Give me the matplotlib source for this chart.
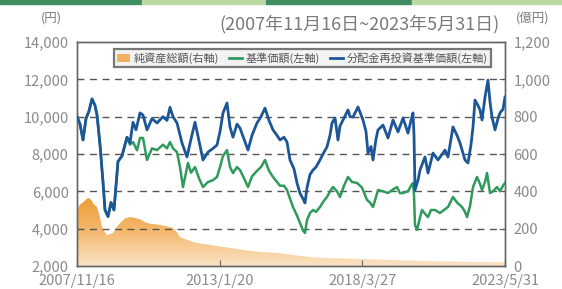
import numpy as np
import pandas as pd
import matplotlib
matplotlib.use("Agg")
import matplotlib.pyplot as plt
import matplotlib.dates as mdates
from matplotlib.patches import Rectangle, Patch
from matplotlib.lines import Line2D
from matplotlib.colors import LinearSegmentedColormap

plt.rcParams['font.family'] = ['Noto Sans CJK JP', 'DejaVu Sans']

# ---------------- data ----------------
start = pd.Timestamp("2007-11-16")
end = pd.Timestamp("2023-05-31")

# offsets in "chart units" along the period (0 = start, 428 = end)
blue_pos = [0, 3, 6, 9, 12, 15, 18, 20, 23, 26, 28, 31, 34, 37, 41, 45, 50, 53, 56, 59, 63, 66,
            70, 75, 80, 86, 90, 93, 96, 100, 105, 110, 114, 118, 122, 126, 131, 136, 140, 143,
            146, 150, 153, 156, 160, 163, 167, 171, 175, 180, 184, 188, 192, 196, 200, 203, 207,
            210, 213, 217, 220, 223, 226, 228, 230, 233, 236, 239, 243, 247, 250, 253, 255, 258,
            261, 263, 266, 271, 273, 276, 279, 281, 286, 289, 291, 294, 296, 299, 301, 306, 311,
            316, 321, 326, 331, 334, 336, 337, 338, 341, 343, 348, 351, 356, 361, 368, 371, 376,
            380, 383, 388, 391, 394, 396, 398, 401, 403, 405, 408, 411, 413, 415, 418, 421, 423,
            426, 428]
blue_val = [10000, 9600, 8750, 9900, 10300, 10950, 10600, 10100, 8500, 6500, 5000, 4650, 5400,
            5000, 7600, 7900, 8900, 8600, 9700, 9300, 10200, 10090, 9290, 9900, 9660, 10000,
            9800, 10500, 10000, 9660, 8590, 7840, 8800, 9700, 8700, 7680, 8100, 8300, 8480,
            9200, 10200, 10730, 9450, 8900, 9600, 9390, 8800, 8210, 9000, 9660, 10000, 10460,
            9800, 9290, 9000, 8750, 8900, 8640, 7680, 7200, 6450, 5900, 5600, 5375, 6200, 6900,
            7140, 7300, 7680, 8100, 8380, 9000, 9660, 9930, 8750, 9500, 9820, 10360, 10000, 9980,
            10300, 10520, 9820, 9200, 8050, 8400, 7680, 8800, 9290, 9550, 8860, 9820, 9180, 9930,
            9120, 9800, 10200, 9000, 6070, 6600, 7140, 7840, 6980, 8050, 7680, 8210, 7840, 9450,
            9000, 8590, 7680, 7520, 8500, 9450, 10890, 10600, 10360, 9820, 11050, 11960, 10800,
            9980, 9290, 9900, 10200, 10400, 11050]

green_pos = [0, 3, 6, 9, 12, 15, 18, 20, 23, 26, 28, 31, 34, 37, 41, 45, 50, 53, 56, 60, 63,
             66, 70, 75, 80, 86, 90, 93, 96, 100, 103, 106, 111, 114, 118, 122, 126, 131, 136,
             140, 143, 146, 150, 153, 156, 160, 163, 167, 171, 175, 180, 184, 188, 192, 196,
             200, 203, 207, 210, 213, 216, 220, 223, 226, 228, 230, 233, 236, 239, 243, 247,
             250, 253, 256, 260, 263, 267, 271, 275, 280, 285, 290, 293, 296, 299, 301, 306,
             311, 316, 320, 323, 326, 331, 334, 336, 337, 338, 340, 343, 345, 348, 351, 354,
             358, 363, 367, 371, 376, 380, 385, 388, 390, 393, 396, 400, 403, 405, 408, 410,
             413, 416, 420, 423, 426, 428]
green_val = [10000, 9600, 8750, 9900, 10300, 10950, 10600, 10100, 8500, 6500, 5000, 4650, 5400,
             5000, 7600, 7900, 8900, 8500, 8640, 8200, 8860, 8860, 7680, 8300, 8210, 8500, 8300,
             8640, 8300, 8100, 7300, 6230, 7520, 7000, 7300, 6700, 6230, 6500, 6600, 6770, 7300,
             7900, 8210, 7300, 6980, 7300, 7140, 6700, 6230, 6800, 7100, 7300, 7680, 7100, 6770,
             6500, 6300, 6300, 6070, 5600, 5160, 4700, 4300, 3900, 3770, 4460, 4840, 5000, 4900,
             5160, 5500, 5700, 6000, 6230, 6000, 5700, 6300, 6770, 6500, 6450, 6200, 5540, 5400,
             5160, 5700, 6070, 6000, 5910, 6100, 6230, 5900, 5910, 6000, 6300, 6450, 5800, 4200,
             3930, 4600, 5000, 4800, 4620, 5000, 5000, 4840, 5000, 5160, 5700, 5400, 5160, 4900,
             4620, 5200, 6230, 6770, 6400, 6070, 6500, 6980, 5910, 6000, 6230, 6000, 6300, 6450]

nav_pos = [0, 3, 7, 11, 14, 17, 20, 23, 25, 28, 30, 33, 36, 40, 43, 48, 53, 58, 63, 70, 76, 83,
           90, 96, 100, 103, 110, 116, 123, 133, 146, 156, 166, 183, 200, 216, 233, 253, 283,
           313, 338, 363, 393, 428]
nav_val = [300, 330, 345, 365, 355, 330, 316, 260, 209, 180, 166, 170, 177, 210, 230, 255, 262,
           258, 250, 230, 225, 220, 212, 204, 180, 155, 140, 129, 120, 113, 102, 95, 86, 75, 70,
           59, 48, 42, 38, 32, 28, 25, 22, 20]

xtick_labels = ["2007/11/16", "2013/1/20", "2018/3/27", "2023/5/31"]
left_ticks = [2000, 4000, 6000, 8000, 10000, 12000, 14000]
right_ticks = [0, 200, 400, 600, 800, 1000, 1200]

span = (end - start)


def to_dates(pos):
    return [start + span * (p / 428.0) for p in pos]


blue_d = to_dates(blue_pos)
green_d = to_dates(green_pos)
nav_d = to_dates(nav_pos)
tick_d = [start + span * (i / 3.0) for i in range(4)]

# ---------------- figure ----------------
W, H = 562, 289
fig = plt.figure(figsize=(W / 100, H / 100), dpi=100)
fig.patch.set_facecolor("white")

# top strip
strip = [(0, 142, "#3f8e62"), (142, 266, "#bcd9a4"), (266, 412, "#3f8e62"), (412, 562, "#bcd9a4")]
for x0, x1, c in strip:
    fig.patches.append(Rectangle((x0 / W, 1 - 4 / H), (x1 - x0) / W, 4 / H,
                                 transform=fig.transFigure, color=c, zorder=0))

ax_l, ax_r, ax_t, ax_b = 77, 505, 42, 266
ax = fig.add_axes([ax_l / W, 1 - ax_b / H, (ax_r - ax_l) / W, (ax_b - ax_t) / H])
ax2 = ax.twinx()
ax.set_zorder(ax2.get_zorder() + 1)
ax.patch.set_visible(False)

# net assets area with vertical gradient
poly = ax2.fill_between(nav_d, 0, nav_val, color="none", lw=0)
cmap = LinearSegmentedColormap.from_list("og", ["#fbe3c6", "#f4b86c", "#ee9a35"])
grad = np.linspace(0, 1, 256).reshape(-1, 1)
x0n, x1n = mdates.date2num(start), mdates.date2num(end)
im = ax2.imshow(grad, cmap=cmap, aspect="auto", origin="lower",
                extent=[x0n, x1n, 0, 380], zorder=1)
path = poly.get_paths()[0]
im.set_clip_path(path, transform=ax2.transData)

ax2.set_ylim(0, 1200)
ax.set_ylim(2000, 14000)
ax.set_xlim(start, end)
ax2.set_xlim(start, end)

# lines
green_c = "#2f9a5c"
blue_c = "#1c5697"
ax.plot(green_d, green_val, color=green_c, lw=1.8, zorder=3)
ax.plot(blue_d, blue_val, color=blue_c, lw=2.0, zorder=4)

# grid
for v in [4000, 6000, 8000, 10000, 12000]:
    ax.axhline(v, color="#555555", lw=1.0, ls=(0, (5, 4)), zorder=2)

# spines
for a in (ax, ax2):
    for s in a.spines.values():
        s.set_color("#666666")
        s.set_linewidth(1.0)

tick_col = "#8a8a8a"
ax.set_yticks(left_ticks)
ax.set_yticklabels([f"{v:,}" for v in left_ticks])
ax2.set_yticks(right_ticks)
ax2.set_yticklabels([f"{v:,}" for v in right_ticks])
ax.set_xticks(tick_d)
ax.set_xticklabels(xtick_labels)
ax.tick_params(axis="y", direction="in", length=4, color="#666666", labelsize=10.5,
               labelcolor=tick_col, pad=6)
ax2.tick_params(axis="y", direction="in", length=4, color="#666666", labelsize=10.5,
                labelcolor=tick_col, pad=6)
ax.tick_params(axis="x", direction="in", length=4, color="#666666", labelsize=10.5,
               labelcolor=tick_col, pad=6)

# header texts
fig.text(500 / W, 1 - 24 / H, "(2007年11月16日~2023年5月31日)", ha="right", va="center",
         fontsize=13, color="#7a7a7a")
fig.text(51 / W, 1 - 18 / H, "(円)", ha="center", va="center", fontsize=9, color="#7a7a7a")
fig.text(533 / W, 1 - 18 / H, "(億円)", ha="center", va="center", fontsize=9, color="#7a7a7a")

# legend
handles = [Patch(facecolor="#f2b060", edgecolor="none"),
           Line2D([], [], color=green_c, lw=2),
           Line2D([], [], color=blue_c, lw=2)]
labels = ["純資産総額(右軸)", "基準価額(左軸)", "分配金再投資基準価額(左軸)"]
leg = ax.legend(handles, labels, loc="upper right", bbox_to_anchor=(0.98, 0.995), ncol=3,
                fontsize=8, frameon=True, fancybox=False, borderpad=0.3,
                handlelength=1.2, handletextpad=0.3, columnspacing=0.9,
                labelcolor="#555555")
leg.get_frame().set_edgecolor("#777777")
leg.get_frame().set_linewidth(1.6)
leg.get_frame().set_facecolor("#f3f3f3")
leg.get_frame().set_alpha(1)
leg.set_zorder(10)

fig.savefig("out.png", dpi=100)
